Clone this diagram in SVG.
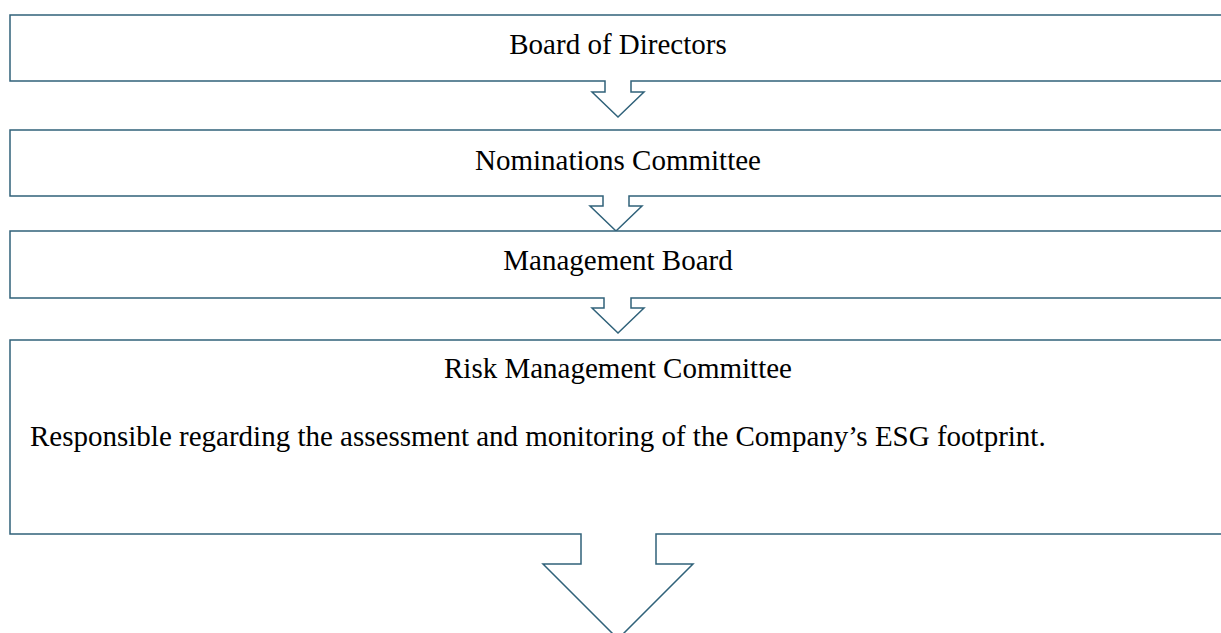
<svg xmlns="http://www.w3.org/2000/svg" width="1221" height="633" viewBox="0 0 1221 633">
<style>
.box{fill:#ffffff;stroke:#30627a;stroke-width:1.5;stroke-linejoin:miter}
.t{font-family:"Liberation Serif","Times New Roman",serif;font-size:29px;fill:#000}
.c{text-anchor:middle}
</style>
<rect width="1221" height="633" fill="#ffffff"/>
<g id="connectors"></g>
<g id="board">
<path class="box" d="M10 15 H1235 V81 H631 V92 H644 L618 117 L592 92 H605 V81 H10 Z"/>
<text class="t c" x="618" y="54">Board of Directors</text>
</g>
<g id="nominations">
<path class="box" d="M10 130 H1235 V196 H629 V206 H642 L616 231 L590 206 H603 V196 H10 Z"/>
<text class="t c" x="618" y="170">Nominations Committee</text>
</g>
<g id="management">
<path class="box" d="M10 231 H1235 V298 H631 V308 H644 L618 333 L592 308 H604 V298 H10 Z"/>
<text class="t c" x="618" y="270">Management Board</text>
</g>
<g id="risk">
<path class="box" d="M10 340 H1235 V534 H656 V564 H693 L618 639 L543 564 H581 V534 H10 Z"/>
<text class="t c" x="618" y="378">Risk Management Committee</text>
<text class="t" x="30" y="446">Responsible regarding the assessment and monitoring of the Company’s ESG footprint.</text>
</g>
</svg>
